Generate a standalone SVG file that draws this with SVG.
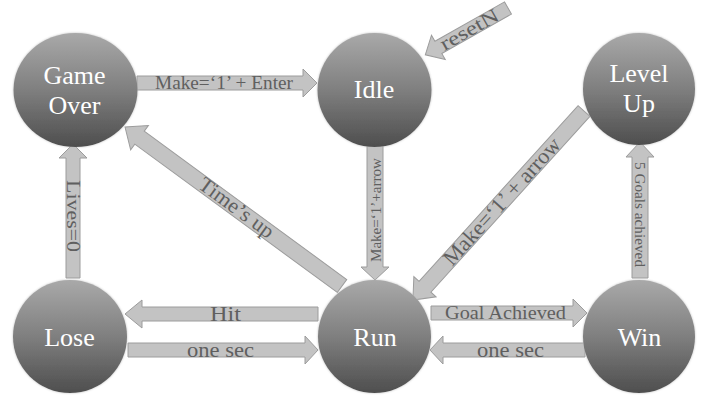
<svg xmlns="http://www.w3.org/2000/svg" width="718" height="401" viewBox="0 0 718 401">
<defs>
<linearGradient id="gNode" x1="0" y1="0" x2="0" y2="1">
<stop offset="0" stop-color="#a9a9a9"/>
<stop offset="0.5" stop-color="#7f7f7f"/>
<stop offset="1" stop-color="#4e4e4e"/>
</linearGradient>
<filter id="glow" x="-10%" y="-10%" width="120%" height="120%">
<feGaussianBlur in="SourceAlpha" stdDeviation="1.2" result="b"/>
<feFlood flood-color="#bdbdbd" result="c"/>
<feComposite in="c" in2="b" operator="in" result="s"/>
<feMerge><feMergeNode in="s"/><feMergeNode in="SourceGraphic"/></feMerge>
</filter>
</defs>
<style>
.node{fill:url(#gNode);filter:url(#glow)}
.nt{font-family:"Liberation Serif","DejaVu Serif",serif;font-size:26px;fill:#ffffff;text-anchor:middle}
.arr{fill:#c3c3c3;stroke:#9c9c9c;stroke-width:1}
.lt{font-family:"Liberation Serif","DejaVu Serif",serif;fill:#5f5f5f;text-anchor:middle}
</style>
<rect width="718" height="401" fill="#ffffff"/>
<g id="connectors">
<g id="e-gameover-idle">
<path class="arr" d="M137,76 L303,76 L303,69 L317,83 L303,97 L303,90 L137,90 Z"/>
<text class="lt" x="224" y="88.5" font-size="18" textLength="138" lengthAdjust="spacingAndGlyphs">Make=‘1’ + Enter</text>
</g>
<g id="e-reset-idle">
<path class="arr" transform="translate(508,8) rotate(150.5)" d="M0,-7 L80,-7 L80,-14 L95,0 L80,14 L80,7 L0,7 Z"/>
<text class="lt" transform="translate(469.5,30) rotate(-29.5)" y="6" font-size="20" textLength="64" lengthAdjust="spacingAndGlyphs">resetN</text>
</g>
<g id="e-idle-run">
<path class="arr" d="M367,143 L383,143 L383,267 L389,267 L375,280 L361,267 L367,267 Z"/>
<text class="lt" transform="translate(381,210) rotate(-90)" font-size="15" textLength="104" lengthAdjust="spacingAndGlyphs">Make=‘1’+arrow</text>
</g>
<g id="e-levelup-run">
<path class="arr" transform="translate(584,111) rotate(132.14)" d="M0,-8 L237,-8 L237,-15 L255,0 L237,15 L237,8 L0,8 Z"/>
<text class="lt" transform="translate(502,201.6) rotate(-47.86)" y="7" font-size="22" textLength="164" lengthAdjust="spacingAndGlyphs">Make=‘1’ + arrow</text>
</g>
<g id="e-run-gameover">
<path class="arr" transform="translate(342,286) rotate(216.23)" d="M0,-8 L251,-8 L251,-15 L269,0 L251,15 L251,8 L0,8 Z"/>
<text class="lt" transform="translate(236,208.3) rotate(36.23)" y="6" font-size="21" textLength="88" lengthAdjust="spacingAndGlyphs">Time’s up</text>
</g>
<g id="e-lose-gameover">
<path class="arr" d="M66,278 L66,158 L59,158 L73,144 L87,158 L80,158 L80,278 Z"/>
<text class="lt" transform="translate(67,216) rotate(90)" font-size="18" textLength="72" lengthAdjust="spacingAndGlyphs">Lives=0</text>
</g>
<g id="e-win-levelup">
<path class="arr" d="M632,278 L632,157 L626,157 L640,142 L654,157 L648,157 L648,278 Z"/>
<text class="lt" transform="translate(635,214.5) rotate(90)" font-size="14" textLength="105" lengthAdjust="spacingAndGlyphs">5 Goals achieved</text>
</g>
<g id="e-run-lose">
<path class="arr" d="M318,307 L142,307 L142,300 L125,314 L142,328 L142,321 L318,321 Z"/>
<text class="lt" x="225.5" y="321" font-size="21" textLength="31" lengthAdjust="spacingAndGlyphs">Hit</text>
</g>
<g id="e-lose-run">
<path class="arr" d="M128,343 L305,343 L305,336 L318,350 L305,364 L305,357 L128,357 Z"/>
<text class="lt" x="220.5" y="357" font-size="21" textLength="67" lengthAdjust="spacingAndGlyphs">one sec</text>
</g>
<g id="e-run-win">
<path class="arr" d="M431,306 L573,306 L573,299 L587,313 L573,327 L573,320 L431,320 Z"/>
<text class="lt" x="505.5" y="319" font-size="18" textLength="121" lengthAdjust="spacingAndGlyphs">Goal Achieved</text>
</g>
<g id="e-win-run">
<path class="arr" d="M585,343 L443,343 L443,336 L430,350 L443,364 L443,357 L585,357 Z"/>
<text class="lt" x="510.5" y="357" font-size="21" textLength="67" lengthAdjust="spacingAndGlyphs">one sec</text>
</g>
</g>
<g id="n-gameover">
<ellipse class="node" cx="75.5" cy="90" rx="62" ry="57"/>
<text class="nt" x="74.5" y="84">Game</text>
<text class="nt" x="74.5" y="114">Over</text>
</g>
<g id="n-idle">
<ellipse class="node" cx="374.5" cy="90" rx="57" ry="57"/>
<text class="nt" x="374" y="98">Idle</text>
</g>
<g id="n-levelup">
<ellipse class="node" cx="639" cy="89" rx="56" ry="56"/>
<text class="nt" x="639" y="82">Level</text>
<text class="nt" x="639" y="112">Up</text>
</g>
<g id="n-lose">
<ellipse class="node" cx="70" cy="336.5" rx="57" ry="56.5"/>
<text class="nt" x="69.5" y="346">Lose</text>
</g>
<g id="n-run">
<ellipse class="node" cx="374.5" cy="336.5" rx="56.5" ry="56.5"/>
<text class="nt" x="375" y="346">Run</text>
</g>
<g id="n-win">
<ellipse class="node" cx="639" cy="336.5" rx="56" ry="56.5"/>
<text class="nt" x="639.5" y="346">Win</text>
</g>
</svg>
